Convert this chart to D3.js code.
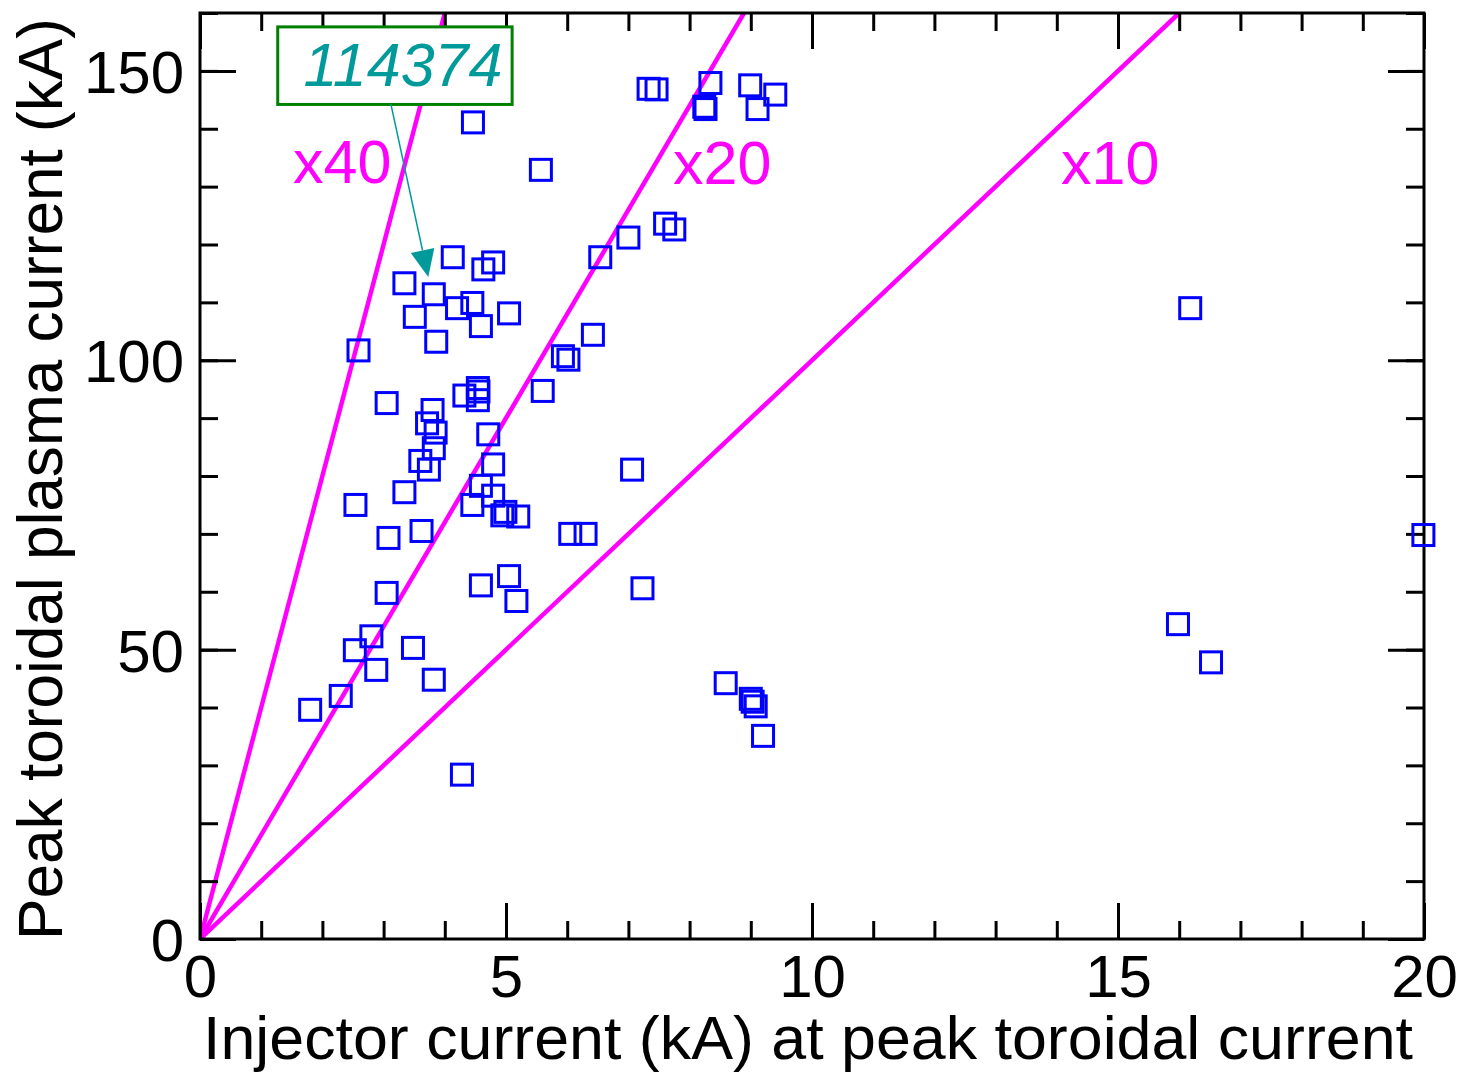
<!DOCTYPE html>
<html>
<head>
<meta charset="utf-8">
<script src="https://cdn.jsdelivr.net/npm/d3@7"></script>
<style>
  body { margin: 0; background: #fff; }
  text { font-family: 'Liberation Sans', Arial, sans-serif; }
</style>
</head>
<body>
<svg id="chart" width="1470" height="1074"></svg>
<script>
// injector current (kA) at peak toroidal current
const injector = [
  4.46, 5.57, 4.13, 4.63, 4.79, 6.54, 3.34, 3.82, 4.20, 4.45,
  5.05, 3.51, 4.59, 3.86, 2.59, 6.42, 5.93, 6.02, 5.60, 3.05,
  4.32, 4.54, 4.55, 4.54, 3.80, 3.71, 3.85, 3.82, 4.71, 3.60,
  3.74, 4.79, 3.34, 4.59, 4.79, 2.54, 4.45, 4.99, 4.94, 5.20,
  3.08, 3.62, 6.05, 6.30, 3.05, 4.59, 5.05, 5.17, 2.80, 2.53,
  2.88, 3.48, 3.82, 2.30, 1.80, 4.28, 7.33, 7.46, 8.34, 8.26,
  8.24, 8.99, 9.40, 9.11, 7.60, 7.75, 7.00, 7.06, 7.23, 8.59,
  9.00, 9.03, 9.08, 9.20, 16.18, 15.98, 16.52, 19.99
];
// peak toroidal plasma current (kA)
const plasma = [
  141.1, 132.9, 117.8, 115.7, 116.9, 117.8, 113.3, 111.4, 109.0, 109.9,
  108.1, 107.5, 105.9, 103.2, 101.7, 104.4, 100.7, 100.1, 94.7, 92.6,
  93.9, 95.2, 94.6, 93.1, 91.4, 89.1, 87.5, 84.8, 87.2, 82.6,
  81.1, 82.0, 77.2, 78.3, 76.6, 75.0, 75.0, 73.8, 73.2, 73.0,
  69.3, 70.5, 70.0, 70.0, 59.8, 61.1, 62.7, 58.4, 52.3, 49.9,
  46.5, 50.3, 44.8, 42.0, 39.6, 28.4, 146.9, 146.8, 147.9, 143.4,
  143.8, 147.5, 145.9, 143.4, 123.6, 122.6, 121.2, 81.1, 60.6, 44.2,
  41.5, 41.0, 40.2, 35.1, 109.0, 54.4, 47.8, 69.8
];

// gain reference lines through the origin
const gainSlopes = [40, 18, 10];
const gainLabels = ['x40', 'x20', 'x10'];

const xMajorTicks = [0, 5, 10, 15, 20];
const yMajorTicks = [0, 50, 100, 150];

const shotLabel = '114374';
const shotPoint = [3.73, 114.4];

const xTitle = 'Injector current (kA) at peak toroidal current';
const yTitle = 'Peak toroidal plasma current (kA)';

const plotLeft = 200, plotRight = 1424, plotTop = 13, plotBottom = 939;
const majorTick = 36;
const minorTick = 18;
const fontSize = 60;
const magenta = '#ff00ff';
const teal = '#009a9a';

const svg = d3.select('#chart');

const x = d3.scaleLinear().domain([0, 20]).range([plotLeft, plotRight]);
const y = d3.scaleLinear().domain([0, 160]).range([plotBottom, plotTop]);

svg.append('defs').append('clipPath').attr('id', 'plotClip')
  .append('rect')
  .attr('x', plotLeft).attr('y', plotTop)
  .attr('width', plotRight - plotLeft).attr('height', plotBottom - plotTop);

// gain lines
const gLines = svg.append('g').attr('clip-path', 'url(#plotClip)');
gainSlopes.forEach(s => {
  const xEnd = Math.min(20, 160 / s);
  gLines.append('line')
    .attr('x1', x(0)).attr('y1', y(0))
    .attr('x2', x(xEnd)).attr('y2', y(s * xEnd))
    .style('stroke', magenta)
    .style('stroke-width', 4.5);
});

// label anchors (data units)
const labelSpots = [[1.52, 130.7], [7.73, 130.4], [14.07, 130.5]];
gainLabels.forEach((t, i) => {
  svg.append('text')
    .attr('x', x(labelSpots[i][0]))
    .attr('y', y(labelSpots[i][1]))
    .style('font-size', '61px')
    .style('fill', magenta)
    .text(t);
});

// axes: minor + major ticks on all four sides, pointing inward
function tickAxis(axisFn, scale, values, size, transform, labels) {
  const a = axisFn(scale).tickValues(values).tickSizeInner(size).tickSizeOuter(0);
  if (!labels) a.tickFormat('');
  const g = svg.append('g').attr('transform', transform).call(a);
  g.select('.domain').remove();
  g.selectAll('.tick line').style('stroke', '#000').style('stroke-width', 3);
  return g;
}

const xMinor = d3.range(0, 21, 1);
const yMinor = d3.range(0, 161, 10);

tickAxis(d3.axisBottom, x, xMinor, -minorTick, `translate(0,${plotBottom})`, false);
tickAxis(d3.axisTop, x, xMinor, -minorTick, `translate(0,${plotTop})`, false);
tickAxis(d3.axisLeft, y, yMinor, -minorTick, `translate(${plotLeft},0)`, false);
tickAxis(d3.axisRight, y, yMinor, -minorTick, `translate(${plotRight},0)`, false);

const xAxisG = tickAxis(d3.axisBottom, x, xMajorTicks, -majorTick, `translate(0,${plotBottom})`, true);
xAxisG.call(g => g.selectAll('.tick text')
  .attr('y', 15)
  .style('font-size', fontSize + 'px')
  .style('font-family', "'Liberation Sans', Arial, sans-serif")
  .style('fill', '#000'));
tickAxis(d3.axisTop, x, xMajorTicks, -majorTick, `translate(0,${plotTop})`, false);

const yAxisG = tickAxis(d3.axisLeft, y, yMajorTicks, -majorTick, `translate(${plotLeft},0)`, true);
yAxisG.call(g => g.selectAll('.tick text')
  .attr('x', -16)
  .attr('dy', '0.36em')
  .style('font-size', fontSize + 'px')
  .style('font-family', "'Liberation Sans', Arial, sans-serif")
  .style('fill', '#000'));
tickAxis(d3.axisRight, y, yMajorTicks, -majorTick, `translate(${plotRight},0)`, false);

// frame
svg.append('rect')
  .attr('x', plotLeft).attr('y', plotTop)
  .attr('width', plotRight - plotLeft).attr('height', plotBottom - plotTop)
  .style('fill', 'none')
  .style('stroke', '#000')
  .style('stroke-width', 3);

// data markers
const markerSize = 21;
svg.append('g').selectAll('rect')
  .data(d3.zip(injector, plasma))
  .join('rect')
  .attr('x', d => x(d[0]) - markerSize / 2)
  .attr('y', d => y(d[1]) - markerSize / 2)
  .attr('width', markerSize)
  .attr('height', markerSize)
  .style('fill', 'none')
  .style('stroke', '#0000ff')
  .style('stroke-width', 3);

// shot annotation: box + arrow
const boxG = svg.append('g');
const box = { x0: 1.27, x1: 5.10, y0: 144.2, y1: 157.6 };
boxG.append('rect')
  .attr('x', x(box.x0)).attr('y', y(box.y1))
  .attr('width', x(box.x1) - x(box.x0))
  .attr('height', y(box.y0) - y(box.y1))
  .style('fill', '#fff')
  .style('stroke', '#008000')
  .style('stroke-width', 3);
boxG.append('text')
  .attr('x', (x(box.x0) + x(box.x1)) / 2 + 8)
  .attr('y', y(box.y0) - 18)
  .attr('text-anchor', 'middle')
  .style('font-size', '61px')
  .style('font-style', 'italic')
  .style('fill', teal)
  .text(shotLabel);

const start = [x(3.12), y(box.y0)];
const tip = [x(shotPoint[0]), y(shotPoint[1])];
const dx = tip[0] - start[0], dy = tip[1] - start[1];
const len = Math.hypot(dx, dy);
const ux = dx / len, uy = dy / len;
const headLen = 27, headHalf = 12;
const base = [tip[0] - ux * headLen, tip[1] - uy * headLen];
boxG.append('line')
  .attr('x1', start[0]).attr('y1', start[1])
  .attr('x2', base[0]).attr('y2', base[1])
  .style('stroke', teal)
  .style('stroke-width', 1.5);
boxG.append('path')
  .attr('d', `M${tip[0]},${tip[1]} L${base[0] - uy * headHalf},${base[1] + ux * headHalf} L${base[0] + uy * headHalf},${base[1] - ux * headHalf} Z`)
  .style('fill', teal);

// axis titles
svg.append('text')
  .attr('x', 203)
  .attr('y', 1059)
  .attr('textLength', 1210)
  .attr('lengthAdjust', 'spacingAndGlyphs')
  .style('font-size', '62px')
  .style('fill', '#000')
  .text(xTitle);

svg.append('text')
  .attr('transform', `translate(62, 940) rotate(-90)`)
  .attr('textLength', 922)
  .attr('lengthAdjust', 'spacingAndGlyphs')
  .style('font-size', '63px')
  .style('fill', '#000')
  .text(yTitle);
</script>
</body>
</html>
